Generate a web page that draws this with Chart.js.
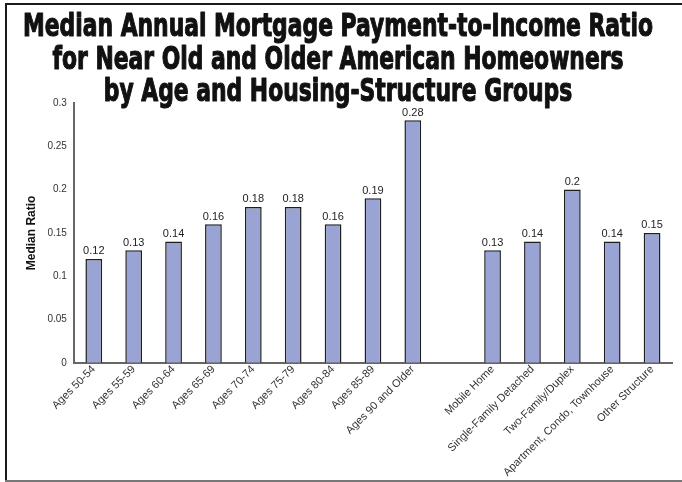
<!DOCTYPE html>
<html lang="en">
<head>
    <meta charset="UTF-8" />
    <title>Median Annual Mortgage Payment-to-Income Ratio</title>
    <script src="https://cdn.jsdelivr.net/npm/chart.js"></script>
    <style>
        html, body {
            margin: 0;
            padding: 0;
            background: #fff;
        }
        #wrap {
            position: relative;
            width: 682px;
            height: 482px;
        }
        /* frame lines around the chart */
        .edge { position: absolute; pointer-events: none; }
        #edgeTop { left: 5px; top: 3px; width: 677px; height: 2px; background: #1a1a1a; }
        #edgeLeft { left: 5px; top: 3px; width: 2px; height: 479px; background: #1a1a1a; }
        #edgeBottom { left: 5px; top: 480px; width: 677px; height: 2px; background: #777; }
    </style>
</head>
<body>
    <div id="wrap">
        <canvas id="ratioChart" width="682" height="482"></canvas>
        <div class="edge" id="edgeTop"></div>
        <div class="edge" id="edgeLeft"></div>
        <div class="edge" id="edgeBottom"></div>
    </div>

    <script>
        // age groups, then a blank slot, then housing-structure groups
        const ageGroups = ['Ages 50-54', 'Ages 55-59', 'Ages 60-64', 'Ages 65-69', 'Ages 70-74',
            'Ages 75-79', 'Ages 80-84', 'Ages 85-89', 'Ages 90 and Older'];
        const ageRatios = [0.12, 0.13, 0.14, 0.16, 0.18, 0.18, 0.16, 0.19, 0.28];

        const structureGroups = ['Mobile Home', 'Single-Family Detached', 'Two-Family/Duplex',
            'Apartment, Condo, Townhouse', 'Other Structure'];
        const structureRatios = [0.13, 0.14, 0.2, 0.14, 0.15];

        const yTicks = [0, 0.05, 0.1, 0.15, 0.2, 0.25, 0.3];

        const titleLines = ['Median Annual Mortgage Payment-to-Income Ratio',
            'for Near Old and Older American Homeowners',
            'by Age and Housing-Structure Groups'];

        const labels = [...ageGroups, '', ...structureGroups];
        const values = [...ageRatios, null, ...structureRatios];

        // heavy, narrow headline drawn across the top
        const headline = {
            id: 'headline',
            afterDraw(chart) {
                const ctx = chart.ctx;
                const cx = chart.width / 2 - 3;
                ctx.save();
                ctx.font = 'bold 32px "DejaVu Sans", sans-serif';
                ctx.fillStyle = '#111';
                ctx.strokeStyle = '#111';
                ctx.lineWidth = 1.2;
                ctx.lineJoin = 'round';
                ctx.textAlign = 'center';
                ctx.textBaseline = 'alphabetic';
                const squeeze = 630 / ctx.measureText(titleLines[0]).width;
                titleLines.forEach((line, i) => {
                    ctx.save();
                    ctx.translate(cx, 36 + i * 32.5);
                    ctx.scale(squeeze, 1);
                    ctx.fillText(line, 0, 0);
                    ctx.strokeText(line, 0, 0);
                    ctx.restore();
                });
                ctx.restore();
            }
        };

        // value printed above each bar
        const barValues = {
            id: 'barValues',
            afterDatasetsDraw(chart) {
                const ctx = chart.ctx;
                const meta = chart.getDatasetMeta(0);
                ctx.save();
                ctx.font = '11px "Liberation Sans", Arial, sans-serif';
                ctx.fillStyle = '#222';
                ctx.textAlign = 'center';
                ctx.textBaseline = 'bottom';
                meta.data.forEach((bar, i) => {
                    const v = chart.data.datasets[0].data[i];
                    if (v === null) return;
                    ctx.fillText(String(v), bar.x, bar.y - 2);
                });
                ctx.restore();
            }
        };

        const ctx = document.getElementById('ratioChart').getContext('2d');
        new Chart(ctx, {
            type: 'bar',
            data: {
                labels: labels,
                datasets: [{
                    data: values,
                    backgroundColor: '#99a3d4',
                    borderColor: '#1e1e1e',
                    borderWidth: 1.5,
                    barPercentage: 0.42,
                    categoryPercentage: 1
                }]
            },
            options: {
                responsive: false,
                animation: false,
                layout: { padding: { left: 24, right: 10, top: 103, bottom: 3 } },
                plugins: {
                    legend: { display: false },
                    tooltip: { enabled: false },
                    title: { display: false }
                },
                scales: {
                    x: {
                        grid: { display: false, drawTicks: false },
                        border: { display: true, color: '#666', width: 2 },
                        ticks: {
                            color: '#333',
                            font: { family: '"Liberation Sans", Arial, sans-serif', size: 11 },
                            minRotation: 45,
                            maxRotation: 45,
                            autoSkip: false,
                            padding: 0
                        }
                    },
                    y: {
                        min: 0,
                        max: 0.3,
                        afterBuildTicks(axis) {
                            axis.ticks = yTicks.map(v => ({ value: v }));
                        },
                        grid: { display: false, drawTicks: false },
                        border: { display: true, color: '#666', width: 2 },
                        ticks: {
                            color: '#333',
                            font: { family: '"Liberation Sans", Arial, sans-serif', size: 10 },
                            padding: 7,
                            callback: v => String(v)
                        },
                        title: {
                            display: true,
                            text: 'Median Ratio',
                            color: '#111',
                            font: { family: '"Liberation Sans", Arial, sans-serif', size: 12, weight: 'bold' },
                            padding: { top: 0, bottom: 2 }
                        }
                    }
                }
            },
            plugins: [barValues, headline]
        });
    </script>
</body>
</html>
